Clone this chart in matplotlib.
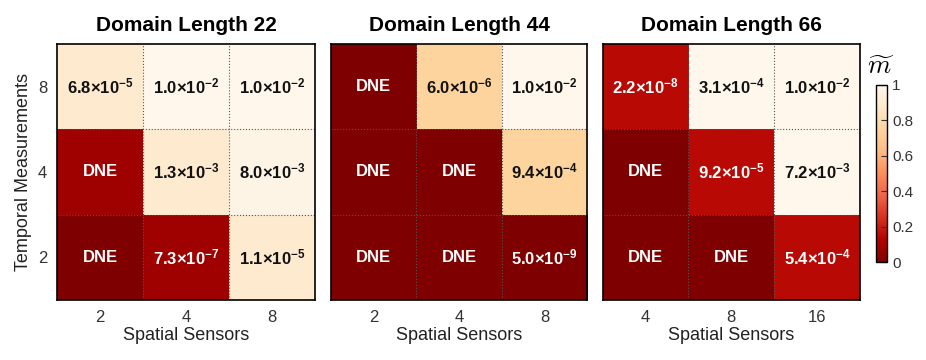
import numpy as np
import matplotlib
matplotlib.use('Agg')
from matplotlib import pyplot as plt

plt.rcParams['font.family'] = ['Liberation Sans', 'DejaVu Sans']
plt.rcParams['mathtext.fontset'] = 'custom'
plt.rcParams['mathtext.bf'] = 'Liberation Sans:bold'
plt.rcParams['mathtext.rm'] = 'Liberation Sans:bold'
plt.rcParams['mathtext.default'] = 'bf'

# Panel titles and axis ticks
titles = ['Domain Length 22', 'Domain Length 44', 'Domain Length 66']
temporal = ['8', '4', '2']  # rows, top to bottom
spatial = [['2', '4', '8'], ['2', '4', '8'], ['4', '8', '16']]

# Normalised metric (colour), rows top to bottom
m_22 = [[0.90, 1.00, 1.00],
        [0.08, 0.90, 0.98],
        [0.00, 0.08, 0.90]]
m_44 = [[0.00, 0.75, 1.00],
        [0.00, 0.00, 0.75],
        [0.00, 0.00, 0.00]]
m_66 = [[0.15, 1.00, 1.00],
        [0.00, 0.15, 1.00],
        [0.00, 0.00, 0.15]]

# Cell labels
lab_22 = [['6.8×10$^{-5}$', '1.0×10$^{-2}$', '1.0×10$^{-2}$'],
          ['DNE', '1.3×10$^{-3}$', '8.0×10$^{-3}$'],
          ['DNE', '7.3×10$^{-7}$', '1.1×10$^{-5}$']]
lab_44 = [['DNE', '6.0×10$^{-6}$', '1.0×10$^{-2}$'],
          ['DNE', 'DNE', '9.4×10$^{-4}$'],
          ['DNE', 'DNE', '5.0×10$^{-9}$']]
lab_66 = [['2.2×10$^{-8}$', '3.1×10$^{-4}$', '1.0×10$^{-2}$'],
          ['DNE', '9.2×10$^{-5}$', '7.2×10$^{-3}$'],
          ['DNE', 'DNE', '5.4×10$^{-4}$']]

values = [m_22, m_44, m_66]
labels = [lab_22, lab_44, lab_66]

fig = plt.figure(figsize=(9.26, 3.6), dpi=100)
lefts = [0.0616, 0.3575, 0.651]
widths = [0.2786, 0.2765, 0.2775]
cmap = plt.get_cmap('OrRd_r')

for k in range(3):
    ax = fig.add_axes([lefts[k], 0.167, widths[k], 0.711])
    data = np.array(values[k])
    im = ax.imshow(data, cmap=cmap, vmin=0, vmax=1, aspect='auto')
    for i in range(3):
        for j in range(3):
            c = 'white' if data[i, j] < 0.5 else '#111111'
            ax.text(j, i, labels[k][i][j], ha='center', va='center',
                    color=c, fontsize=12, fontweight='bold')
    for p in [0.5, 1.5]:
        ax.axhline(p, color='#555555', ls=':', lw=0.8)
        ax.axvline(p, color='#555555', ls=':', lw=0.8)
    ax.set_xticks(range(3))
    ax.set_xticklabels(spatial[k])
    ax.set_yticks(range(3))
    if k == 0:
        ax.set_yticklabels(temporal)
        ax.set_ylabel('Temporal Measurements', fontsize=13, color='#222222')
    else:
        ax.set_yticklabels([])
    ax.tick_params(length=0, labelsize=12, colors='#333333', pad=7)
    ax.set_xlabel('Spatial Sensors', fontsize=13, color='#222222', labelpad=2)
    ax.set_title(titles[k], fontsize=15, fontweight='bold', pad=9)
    for s in ax.spines.values():
        s.set_linewidth(1.2)

cax = fig.add_axes([0.946, 0.272, 0.012, 0.492])
cb = fig.colorbar(im, cax=cax, ticks=[0, 0.2, 0.4, 0.6, 0.8, 1])
cb.ax.set_yticklabels(['0', '0.2', '0.4', '0.6', '0.8', '1'])
cb.ax.tick_params(direction='in', length=4, width=0.8, labelsize=11, colors='#333333')
cb.outline.set_linewidth(1.0)
fig.text(0.951, 0.78, r'$\widetilde{\mathit{m}}$', fontsize=19, ha='center', va='bottom',
         math_fontfamily='cm')

plt.savefig('out.png', dpi=100)
plt.close()
